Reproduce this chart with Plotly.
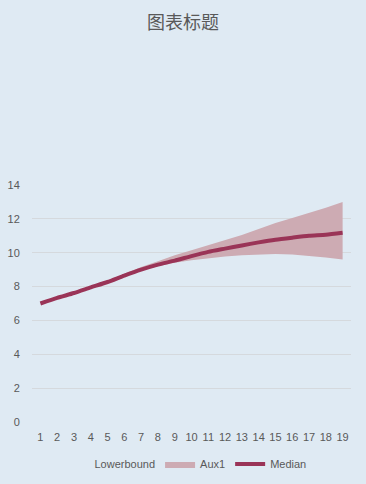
import plotly.graph_objects as go

categories = list(range(1, 20))
lowerbound = [7.0, 7.33, 7.62, 7.95, 8.25, 8.6, 8.95, 9.2, 9.4, 9.55, 9.67, 9.77, 9.85, 9.9, 9.93, 9.9, 9.82, 9.72, 9.6]
aux1 = [0.0, 0.02, 0.03, 0.05, 0.1, 0.15, 0.2, 0.3, 0.45, 0.6, 0.78, 0.98, 1.2, 1.5, 1.82, 2.15, 2.53, 2.93, 3.4]
median = [7.0, 7.33, 7.62, 7.95, 8.27, 8.65, 9.0, 9.3, 9.53, 9.8, 10.05, 10.24, 10.43, 10.61, 10.77, 10.89, 11.0, 11.06, 11.18]
y_ticks = [0, 2, 4, 6, 8, 10, 12, 14]

bg = "#DFEAF3"
txt = "#595959"
band_color = "#CDABB3"
median_color = "#9A3457"

fig = go.Figure()
fig.add_trace(go.Scatter(
    x=categories, y=lowerbound, name="Lowerbound", mode="lines",
    stackgroup="band", line=dict(width=0, color="rgba(0,0,0,0)"),
    fillcolor="rgba(0,0,0,0)", hoverinfo="skip",
))
fig.add_trace(go.Scatter(
    x=categories, y=aux1, name="Aux1", mode="lines",
    stackgroup="band", line=dict(width=0, color=band_color),
    fillcolor=band_color,
))
fig.add_trace(go.Scatter(
    x=categories, y=median, name="Median", mode="lines",
    line=dict(width=4, color=median_color, shape="spline", smoothing=0.6),
))

fig.update_layout(
    width=366, height=484,
    paper_bgcolor=bg, plot_bgcolor=bg,
    margin=dict(l=32, r=15, t=185, b=62, autoexpand=False),
    font=dict(family="Liberation Sans, Arial, sans-serif", size=11, color=txt),
    title=dict(text="图表标题", x=0.5, xanchor="center", xref="container",
               y=1 - 23 / 484, yanchor="middle",
               font=dict(family="Noto Sans CJK SC", size=18, color=txt)),
    showlegend=True,
    legend=dict(orientation="h", x=0.5, xanchor="center", xref="container",
                y=1 - 464 / 484, yanchor="middle", yref="container",
                font=dict(size=11, color=txt), bgcolor="rgba(0,0,0,0)",
                traceorder="normal", itemwidth=30),
    xaxis=dict(range=[0.5, 19.5], tickmode="array", tickvals=categories,
               ticktext=[str(c) for c in categories], showgrid=False,
               zeroline=False, showline=False, ticks="outside", ticklen=5,
               tickcolor="rgba(0,0,0,0)", automargin=False,
               tickfont=dict(size=11, color=txt)),
    yaxis=dict(range=[0, 14], tickmode="array", tickvals=y_ticks,
               showgrid=True, gridcolor="#D5D9DD", gridwidth=1,
               zeroline=False, showline=False, ticks="outside", ticklen=9,
               tickcolor="rgba(0,0,0,0)", automargin=False,
               tickfont=dict(size=11, color=txt)),
)

post = (
    "document.body.style.margin='0';"
    "document.body.style.padding='0';"
    "var d=document.getElementById('{plot_id}');"
    "d.style.outline='1px solid #D9D9D9';"
    "d.style.outlineOffset='-1px';"
)
fig.write_html("out.html", post_script=post, config={"displayModeBar": False})
